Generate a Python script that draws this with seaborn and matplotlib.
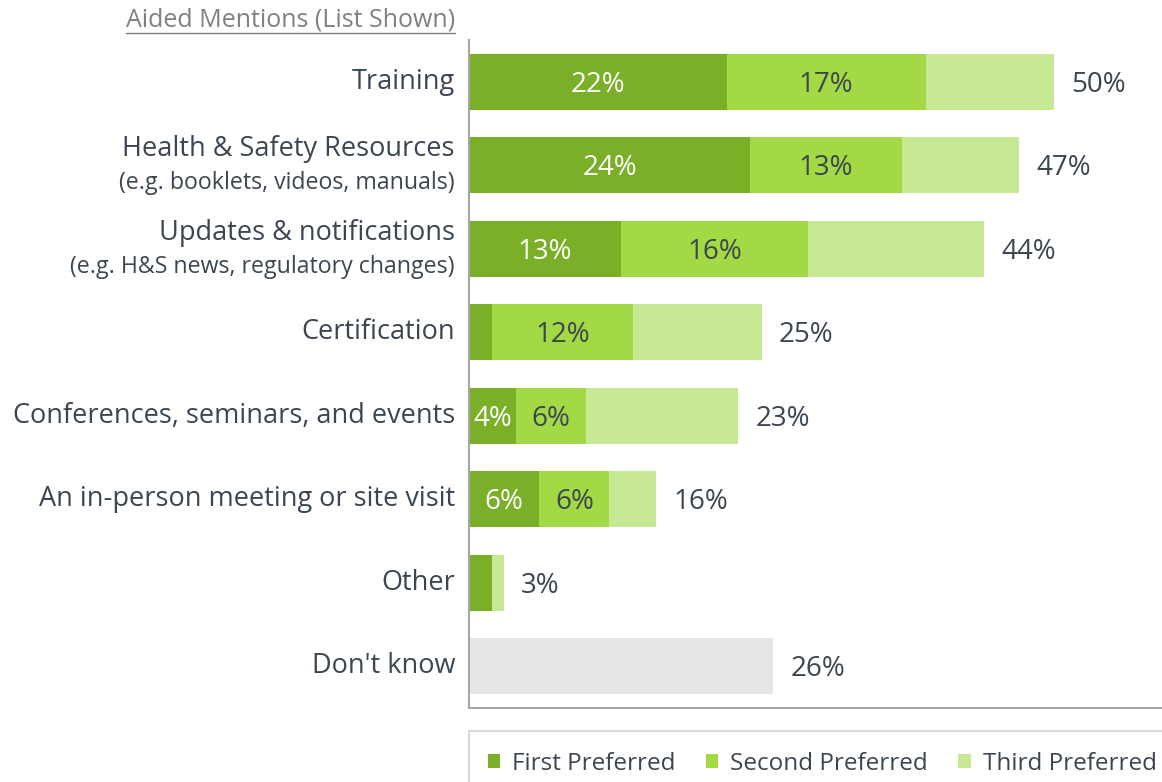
import matplotlib
matplotlib.use("Agg")
import matplotlib.pyplot as plt
import matplotlib.transforms as mtransforms
from matplotlib.patches import Rectangle, Patch
from matplotlib.lines import Line2D
import seaborn as sns
import pandas as pd

categories = ["Training", "Health & Safety Resources", "Updates & notifications",
              "Certification", "Conferences, seminars, and events",
              "An in-person meeting or site visit", "Other", "Don't know"]
sublabels = ["", "(e.g. booklets, videos, manuals)", "(e.g. H&S news, regulatory changes)",
             "", "", "", "", ""]
first = [22, 24, 13, 2, 4, 6, 2, 0]
second = [17, 13, 16, 12, 6, 6, 0, 0]
third = [11, 10, 15, 11, 13, 4, 1, 0]
dont_know = [0, 0, 0, 0, 0, 0, 0, 26]
series_names = ["First Preferred", "Second Preferred", "Third Preferred"]
title = "Aided Mentions (List Shown)"

c1, c2, c3, cdk = "#7AAF27", "#A3D945", "#C8E994", "#E6E6E6"
txt = "#3C4650"

sns.set_theme(style="white")
plt.rcParams['font.family'] = ['Open Sans', 'DejaVu Sans']

keys = [str(i) for i in range(len(categories))]
tot = [a + b + c + d for a, b, c, d in zip(first, second, third, dont_know)]
cum2 = [a + b for a, b in zip(first, second)]
df = pd.DataFrame({"key": keys, "total": tot, "cum2": cum2, "first": first})

fig = plt.figure(figsize=(11.62, 7.82), dpi=100)
ax = fig.add_axes([469/1162, 1 - 708/782, 1 - 469/1162, (708-40)/782])

w = 0.67
total_palette = [c3 if d == 0 else cdk for d in dont_know]
sns.barplot(data=df, y="key", x="total", hue="key", palette=total_palette,
            orient="h", width=w, legend=False, ax=ax, saturation=1, linewidth=0)
sns.barplot(data=df, y="key", x="cum2", color=c2, orient="h", width=w,
            ax=ax, saturation=1, linewidth=0)
sns.barplot(data=df, y="key", x="first", color=c1, orient="h", width=w,
            ax=ax, saturation=1, linewidth=0)

ax.set_xlim(0, 59.2)
ax.set_ylim(7.5, -0.5)
ax.set_xlabel("")
ax.set_ylabel("")
ax.set_xticks([])
ax.set_yticks([])
for s in ["top", "right"]:
    ax.spines[s].set_visible(False)
for s in ["left", "bottom"]:
    ax.spines[s].set_color("#A6A6A6")
    ax.spines[s].set_linewidth(1.5)

fs_cat = 19.5
fs_sub = 16.7
fs_val = 20
for i in range(len(categories)):
    vt = mtransforms.offset_copy(ax.transData, fig=fig, x=0, y=-3, units="dots")
    if first[i] >= 4:
        ax.text(first[i] / 2, i, f"{first[i]}%", ha="center", va="center",
                color="white", fontsize=fs_val, transform=vt)
    if second[i] >= 4:
        ax.text(first[i] + second[i] / 2, i, f"{second[i]}%", ha="center",
                va="center", color=txt, fontsize=fs_val, transform=vt)
    off = mtransforms.offset_copy(ax.transData, fig=fig, x=17, y=-3, units="dots")
    ax.text(tot[i], i, f"{tot[i]}%", ha="left", va="center", color=txt,
            fontsize=fs_val, transform=off)
    if sublabels[i]:
        t1 = mtransforms.offset_copy(ax.get_yaxis_transform(), fig=fig, x=-14, y=16, units="dots")
        t2 = mtransforms.offset_copy(ax.get_yaxis_transform(), fig=fig, x=-14, y=-18, units="dots")
        ax.text(0, i, categories[i], ha="right", va="center", color=txt,
                fontsize=fs_cat, transform=t1)
        ax.text(0, i, sublabels[i], ha="right", va="center", color=txt,
                fontsize=fs_sub, transform=t2)
    else:
        t0 = mtransforms.offset_copy(ax.get_yaxis_transform(), fig=fig, x=-14, y=0, units="dots")
        ax.text(0, i, categories[i], ha="right", va="center", color=txt,
                fontsize=fs_cat, transform=t0)

# title with underline
tt = fig.text(455/1162, 1 - 20/782, title, ha="right", va="center",
              color="#808080", fontsize=18)
fig.canvas.draw()
bb = tt.get_window_extent()
fig.add_artist(Line2D([bb.x0/1162, bb.x1/1162], [(782 - 33)/782, (782 - 33)/782],
                      color="#808080", linewidth=1, transform=fig.transFigure))

# legend box
fig.add_artist(Rectangle((469/1162, -0.01), 1.0, (782 - 731)/782 + 0.01,
                         transform=fig.transFigure, facecolor="white",
                         edgecolor="#D9D9D9", linewidth=1.5))
handles = [Patch(facecolor=c, edgecolor="none") for c in (c1, c2, c3)]
fig.legend(handles, series_names, loc="center left", ncol=3, frameon=False,
           bbox_to_anchor=(478/1162, 1 - 764/782), fontsize=17.5, handlelength=0.5,
           handleheight=0.5, handletextpad=0.5, columnspacing=1.25, labelcolor=txt,
           borderaxespad=0)

fig.savefig("out.png", dpi=100)
